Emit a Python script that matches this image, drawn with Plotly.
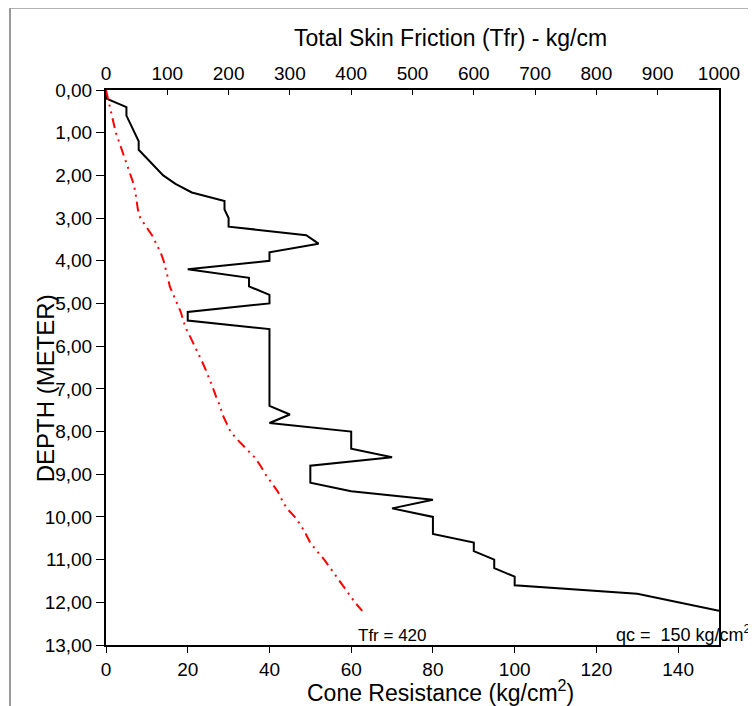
import plotly.graph_objects as go

# depth in metres, 0.2 m steps
depth_qc = [0.0, 0.2, 0.4, 0.6, 0.8, 1.0, 1.2, 1.4, 1.6, 1.8, 2.0, 2.2, 2.4, 2.6, 2.8,
            3.0, 3.2, 3.4, 3.6, 3.8, 4.0, 4.2, 4.4, 4.6, 4.8, 5.0, 5.2, 5.4, 5.6, 5.8,
            6.0, 6.2, 6.4, 6.6, 6.8, 7.0, 7.2, 7.4, 7.6, 7.8, 8.0, 8.2, 8.4, 8.6, 8.8,
            9.0, 9.2, 9.4, 9.6, 9.8, 10.0, 10.2, 10.4, 10.6, 10.8, 11.0, 11.2, 11.4,
            11.6, 11.8, 12.0, 12.2]
cone_resistance = [0, 0, 5, 5, 6, 7, 8, 8, 10, 12, 14, 17, 21, 29, 29,
                   30, 30, 49, 52, 40, 40, 20, 35, 35, 40, 40, 20, 20, 40, 40,
                   40, 40, 40, 40, 40, 40, 40, 40, 45, 40, 60, 60, 60, 70, 50,
                   50, 50, 60, 80, 70, 80, 80, 80, 90, 90, 95, 95, 100,
                   100, 130, 140, 150]

depth_tfr = depth_qc
total_friction = [0, 3, 6, 9, 12, 16, 21, 26, 31, 36, 41, 45, 48, 50, 52,
                  56, 66, 75, 82, 89, 94, 98, 101, 104, 110, 117, 122, 126, 131, 138,
                  145, 152, 158, 164, 170, 175, 180, 186, 190, 196, 203, 215, 228, 242, 252,
                  260, 270, 280, 287, 295, 308, 318, 326, 333, 344, 356, 366, 376,
                  386, 396, 406, 418]

depth_ticks = list(range(0, 14))
cone_ticks = [0, 20, 40, 60, 80, 100, 120, 140]

FONT = "Liberation Sans, Arial, sans-serif"

fig = go.Figure()

fig.add_trace(go.Scatter(
    x=cone_resistance, y=depth_qc,
    mode='lines',
    line=dict(color='black', width=2),
    name='qc',
    xaxis='x', yaxis='y'
))

fig.add_trace(go.Scatter(
    x=total_friction, y=depth_tfr,
    mode='lines',
    line=dict(color='red', width=2, dash='10px,5px,2px,5px,2px,5px'),
    name='Tfr',
    xaxis='x2', yaxis='y'
))

# outer gray frame (left and top edges of the pasted figure)
fig.add_shape(type='line', xref='paper', yref='paper',
              x0=-0.1566, x1=-0.1566, y0=-0.2, y1=1.148,
              line=dict(color='#9a9a9a', width=2))
fig.add_shape(type='line', xref='paper', yref='paper',
              x0=-0.1566, x1=1.2, y0=1.148, y1=1.148,
              line=dict(color='#9a9a9a', width=2))

fig.add_annotation(text='DEPTH (METER)', xref='paper', yref='paper',
                   x=-0.099, y=0.463, xanchor='center', yanchor='middle',
                   textangle=-90, showarrow=False,
                   font=dict(size=24, color='black', family=FONT))
fig.add_annotation(text='Total Skin Friction (Tfr) - kg/cm', xref='paper', yref='paper',
                   x=0.562, y=1.093, xanchor='center', yanchor='middle', showarrow=False,
                   font=dict(size=23, color='black', family=FONT))
fig.add_annotation(text='Cone Resistance (kg/cm<sup>2</sup>)', xref='paper', yref='paper',
                   x=0.545, y=-0.083, xanchor='center', yanchor='middle', showarrow=False,
                   font=dict(size=23, color='black', family=FONT))
fig.add_annotation(text='Tfr = 420', xref='paper', yref='paper',
                   x=0.467, y=-0.004, xanchor='center', yanchor='bottom', showarrow=False,
                   font=dict(size=17, color='black', family=FONT))
fig.add_annotation(text='qc =  150 kg/cm<sup>2</sup>', xref='paper', yref='paper',
                   x=0.828, y=-0.004, xanchor='left', yanchor='bottom', showarrow=False,
                   font=dict(size=18, color='black', family=FONT))

# the page body adds 8 px, so the figure is 8 px smaller and margins shifted
fig.update_layout(
    width=748, height=698,
    margin=dict(l=98, r=37, t=82, b=61),
    paper_bgcolor='white', plot_bgcolor='white',
    separators=',.',
    showlegend=False,
    font=dict(family=FONT, size=19, color='black'),
    xaxis=dict(
        range=[0, 150], tickvals=cone_ticks,
        ticks='outside', ticklen=6, tickcolor='black',
        showgrid=False, zeroline=False,
        showline=True, linecolor='black', linewidth=2, mirror=False,
        tickfont=dict(size=19)
    ),
    xaxis2=dict(
        range=[0, 1000], dtick=100, overlaying='x', side='top',
        ticks='inside', ticklen=5, tickcolor='black',
        showgrid=False, zeroline=False,
        showline=True, linecolor='black', linewidth=2,
        tickfont=dict(size=19)
    ),
    yaxis=dict(
        range=[13, 0], tickvals=depth_ticks, tickformat='.2f',
        ticks='outside', ticklen=8, tickcolor='black',
        showgrid=False, zeroline=False,
        showline=True, linecolor='black', linewidth=2, mirror=True,
        tickfont=dict(size=19)
    ),
)

fig.write_html("out.html")
